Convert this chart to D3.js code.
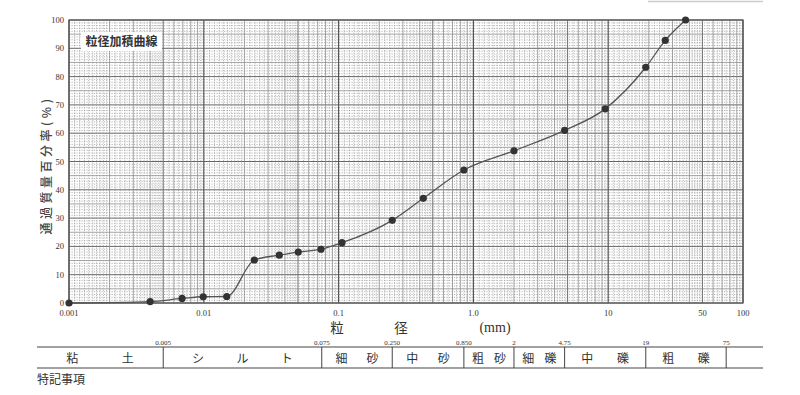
<!DOCTYPE html>
<html><head><meta charset="utf-8">
<script src="https://cdn.jsdelivr.net/npm/d3@7"></script>
<style>
html,body{margin:0;padding:0;background:#fff;}
svg{display:block;}
</style></head>
<body>
<svg id="c" width="800" height="395"></svg>
<script>
// ---- data ----
const diameters = [0.001, 0.004, 0.0069, 0.0099, 0.0148, 0.0237, 0.0363, 0.0502, 0.074, 0.106, 0.25, 0.425, 0.85, 2.0, 4.75, 9.5, 19, 26.5, 37.5];
const passing   = [0, 0.5, 1.6, 2.2, 2.3, 15.2, 16.9, 18.0, 19.0, 21.3, 29.2, 37.0, 47.0, 53.8, 61.0, 68.6, 83.3, 92.8, 100];
const xTicks = [0.001, 0.01, 0.1, 1, 10, 50, 100];
const xTickLabels = ["0.001", "0.01", "0.1", "1.0", "10", "50", "100"];
const yTicks = [0, 10, 20, 30, 40, 50, 60, 70, 80, 90, 100];
const boundaries = [0.005, 0.075, 0.25, 0.85, 2, 4.75, 19, 75];
const boundaryLabels = ["0.005", "0.075", "0.250", "0.850", "2", "4.75", "19", "75"];
const classes = [["粘","土"], ["シ","ル","ト"], ["細","砂"], ["中","砂"], ["粗","砂"], ["細","礫"], ["中","礫"], ["粗","礫"]];
const title = "粒径加積曲線";
const yLabel = "通過質量百分率(%)";
const note = "特記事項";

const svg = d3.select("#c");
const L = 69, R = 743, T = 20, B = 303;
const x = d3.scaleLog().domain([0.001, 100]).range([L, R]);
const y = d3.scaleLinear().domain([0, 100]).range([B, T]);
const serif = "'Liberation Serif','DejaVu Serif',serif";
const jp = "'Noto Sans CJK JP','Noto Sans CJK SC',sans-serif";

// ---- grid ----
const grid = svg.append("g");
// horizontal
for (let v = 0; v <= 100; v++) {
  const major = v % 10 === 0, mid = v % 5 === 0;
  grid.append("line").attr("x1", L).attr("x2", R).attr("y1", y(v)).attr("y2", y(v))
    .attr("stroke", major ? "#666" : mid ? "#858585" : "#8e8e8e")
    .attr("stroke-width", major ? 1 : mid ? 0.75 : 0.65)
    .attr("stroke-dasharray", (major || mid) ? null : "1.2,1.3");
}
// vertical
for (let e = -3; e < 2; e++) {
  const base = Math.pow(10, e);
  const fine = [];
  for (let m = 1.1; m < 2; m += 0.1) fine.push(m);
  for (let m = 2.2; m < 5; m += 0.2) fine.push(m);
  for (let m = 5.5; m < 10; m += 0.5) fine.push(m);
  fine.forEach(m => {
    if (Math.abs(m - Math.round(m)) < 1e-6) return;
    const xv = x(m * base);
    grid.append("line").attr("x1", xv).attr("x2", xv).attr("y1", T).attr("y2", B)
      .attr("stroke", "#959595").attr("stroke-width", 0.65).attr("stroke-dasharray", "1.2,1.3");
  });
  for (let m = 2; m <= 9; m++) {
    const xv = x(m * base);
    grid.append("line").attr("x1", xv).attr("x2", xv).attr("y1", T).attr("y2", B)
      .attr("stroke", m === 5 ? "#6e6e6e" : "#858585").attr("stroke-width", m === 5 ? 1 : 0.75);
  }
}
[0.001, 0.01, 0.1, 1, 10, 100].forEach(v => {
  grid.append("line").attr("x1", x(v)).attr("x2", x(v)).attr("y1", T).attr("y2", B)
    .attr("stroke", "#555").attr("stroke-width", 1.2);
});
svg.append("rect").attr("x", L).attr("y", T).attr("width", R - L).attr("height", B - T)
  .attr("fill", "none").attr("stroke", "#555").attr("stroke-width", 1.2);

// ---- axes labels ----
svg.append("g").selectAll("text").data(yTicks).join("text")
  .attr("x", 64).attr("y", d => y(d) + 3).attr("text-anchor", "end")
  .attr("font-family", serif).attr("font-size", 8.5).attr("fill", "#333").text(d => d);
svg.append("g").selectAll("text").data(xTicks).join("text")
  .attr("x", d => x(d)).attr("y", 316).attr("text-anchor", "middle")
  .attr("font-family", serif).attr("font-size", 8.5).attr("fill", "#333")
  .text((d, i) => xTickLabels[i]);

svg.append("text").attr("transform", "translate(51,165) rotate(-90)")
  .attr("text-anchor", "middle").attr("font-family", jp).attr("font-size", 12)
  .attr("font-weight", 500).attr("letter-spacing", 3.5).attr("fill", "#444").text(yLabel);

svg.append("text").attr("x", 337).attr("y", 333).attr("text-anchor", "middle")
  .attr("font-family", jp).attr("font-size", 13.5).attr("fill", "#333").text("粒");
svg.append("text").attr("x", 401).attr("y", 333).attr("text-anchor", "middle")
  .attr("font-family", jp).attr("font-size", 13.5).attr("fill", "#333").text("径");
svg.append("text").attr("x", 495).attr("y", 332).attr("text-anchor", "middle")
  .attr("font-family", serif).attr("font-size", 14).attr("fill", "#333").text("(mm)");

// title box
svg.append("rect").attr("x", 81).attr("y", 32).attr("width", 81).attr("height", 19).attr("fill", "#fff");
svg.append("text").attr("x", 121.5).attr("y", 46).attr("text-anchor", "middle")
  .attr("font-family", jp).attr("font-size", 12).attr("font-weight", "bold").attr("fill", "#333").text(title);

// ---- curve ----
const pts = diameters.map((d, i) => [d, passing[i]]);
svg.append("path").datum(pts)
  .attr("d", d3.line().x(d => x(d[0])).y(d => y(d[1])).curve(d3.curveMonotoneX))
  .attr("fill", "none").attr("stroke", "#555").attr("stroke-width", 1.3);
svg.append("g").selectAll("circle").data(pts).join("circle")
  .attr("cx", d => x(d[0])).attr("cy", d => y(d[1])).attr("r", 3.6).attr("fill", "#333");

// ---- classification table ----
const tT = 347, tB = 368, tL = 37, tR = 763;
svg.append("line").attr("x1", tL).attr("x2", tR).attr("y1", tT).attr("y2", tT).attr("stroke", "#444").attr("stroke-width", 1.2);
svg.append("line").attr("x1", tL).attr("x2", tR).attr("y1", tB).attr("y2", tB).attr("stroke", "#444").attr("stroke-width", 1.2);
svg.append("g").selectAll("line").data(boundaries).join("line")
  .attr("x1", d => x(d)).attr("x2", d => x(d)).attr("y1", tT).attr("y2", tB)
  .attr("stroke", "#444").attr("stroke-width", 1);
svg.append("g").selectAll("text").data(boundaries).join("text")
  .attr("x", d => x(d)).attr("y", 345).attr("text-anchor", "middle")
  .attr("font-family", serif).attr("font-size", 7).attr("fill", "#333")
  .text((d, i) => boundaryLabels[i]);
const edges = [tL].concat(boundaries.map(b => x(b)));
classes.forEach((chars, i) => {
  const a = edges[i], b = edges[i + 1], w = b - a;
  const m = chars.length === 3 ? 0.22 : 0.28;
  chars.forEach((c, j) => {
    const f = chars.length === 1 ? 0.5 : m + (1 - 2 * m) * j / (chars.length - 1);
    svg.append("text").attr("x", a + w * f).attr("y", 362.5).attr("text-anchor", "middle")
      .attr("font-family", jp).attr("font-size", 12).attr("fill", "#333").text(c);
  });
});
svg.append("text").attr("x", 37).attr("y", 384).attr("font-family", jp).attr("font-size", 12)
  .attr("fill", "#333").text(note);
// faint scan line top right
svg.append("line").attr("x1", 648).attr("x2", 763).attr("y1", 1.5).attr("y2", 1.5).attr("stroke", "#ccc").attr("stroke-width", 1.5);
</script>
</body></html>
